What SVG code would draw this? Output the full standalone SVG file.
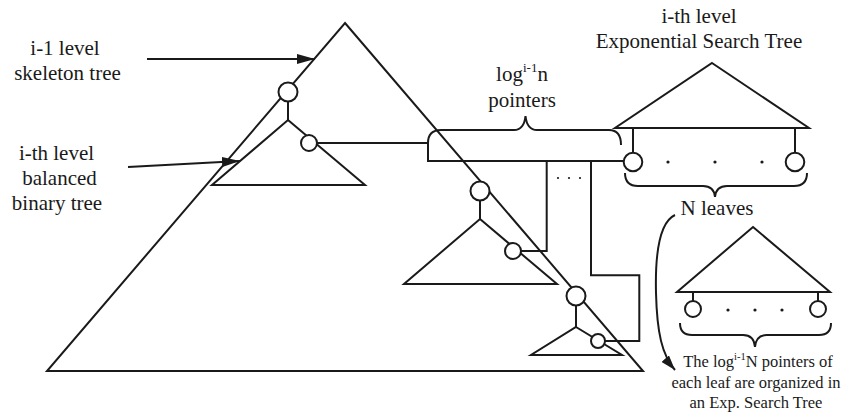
<svg xmlns="http://www.w3.org/2000/svg" width="841" height="413" viewBox="0 0 841 413">
<style>
.ln{fill:none;stroke:#1a1a1a;stroke-width:2;stroke-linejoin:miter}
.tri{fill:none;stroke:#1a1a1a;stroke-width:2;stroke-linejoin:miter}
.nd{fill:#fff;stroke:#1a1a1a;stroke-width:2}
.dot{fill:#1a1a1a}
.t{font-size:21px;fill:#1a1a1a;text-anchor:middle}
.s{font-size:16.5px;fill:#1a1a1a;text-anchor:middle}
</style>
<defs>
<marker id="ah" markerUnits="userSpaceOnUse" markerWidth="18" markerHeight="10" refX="18" refY="5" orient="auto">
<path d="M0,0 L18,5 L0,10 z" fill="#1a1a1a"/>
</marker>
<marker id="ah2" markerUnits="userSpaceOnUse" markerWidth="15" markerHeight="10" refX="15" refY="5" orient="auto">
<path d="M0,0 L15,5 L0,10 z" fill="#1a1a1a"/>
</marker>
</defs>
<rect width="841" height="413" fill="#fff"/>

<g id="skeleton-tree">
<polygon class="tri" points="345,23 643,371 47,371"/>
</g>

<g id="connectors">
<line class="ln" x1="147" y1="59" x2="315" y2="59" marker-end="url(#ah)"/>
<line class="ln" x1="128" y1="167" x2="240" y2="161" marker-end="url(#ah)"/>
<path class="ln" d="M317,143 L428,143 L428,161 L624,161"/>
<path class="ln" d="M521,251 L546.7,251 L546.7,161"/>
<path class="ln" d="M605,341 L639.3,341 L639.3,275.3 L591,275.3 L591,161"/>
<path class="ln" d="M675,215 C660,222 655,252 656,293 C657,333 662,355 675,370" marker-end="url(#ah2)"/>
<line class="ln" x1="288" y1="101" x2="288" y2="120"/>
<line class="ln" x1="480" y1="200" x2="480" y2="219"/>
<line class="ln" x1="576" y1="305" x2="576" y2="327"/>
</g>

<g id="balanced-tree-1">
<polygon class="tri" points="288,120 365,185 212,185"/>
<circle class="nd" cx="288" cy="92" r="9.5"/>
<circle class="nd" cx="309" cy="143" r="8"/>
</g>
<g id="balanced-tree-2">
<polygon class="tri" points="480,219 557,284 404,284"/>
<circle class="nd" cx="480" cy="191" r="9.5"/>
<circle class="nd" cx="513" cy="251" r="8"/>
</g>
<g id="balanced-tree-3">
<polygon class="tri" points="576,327 622,355 531,355"/>
<circle class="nd" cx="576" cy="296" r="9.5"/>
<circle class="nd" cx="598" cy="341" r="7"/>
</g>

<g id="pointers-brace">
<path class="ln" d="M428,143 Q428,130 441,130 L514,130 Q524,130 525.5,116 Q527,130 537,130 L609,130 Q621,130 621,145"/>
<circle class="dot" cx="558" cy="178" r="1.1"/>
<circle class="dot" cx="569" cy="178" r="1.1"/>
<circle class="dot" cx="580" cy="178" r="1.1"/>
</g>

<g id="exp-search-tree">
<polygon class="tri" points="712,63 809,128 615,128"/>
<line class="ln" x1="633" y1="128" x2="633" y2="153"/>
<line class="ln" x1="795" y1="128" x2="795" y2="153"/>
<circle class="nd" cx="633" cy="162" r="9.3"/>
<circle class="nd" cx="795" cy="162" r="9.3"/>
<circle class="dot" cx="668" cy="162" r="1.6"/>
<circle class="dot" cx="715" cy="162" r="1.6"/>
<circle class="dot" cx="762" cy="162" r="1.6"/>
<path class="ln" d="M625,173 Q625,186 638,186 L703,186 Q714,186 715,197 Q716,186 727,186 L794,186 Q807,186 807,173"/>
</g>

<g id="leaf-tree">
<polygon class="tri" points="753,227 830,292 677,292"/>
<line class="ln" x1="693" y1="292" x2="693" y2="301"/>
<line class="ln" x1="818" y1="292" x2="818" y2="301"/>
<circle class="nd" cx="693" cy="309" r="8"/>
<circle class="nd" cx="818" cy="309" r="8"/>
<circle class="dot" cx="728" cy="310" r="1.6"/>
<circle class="dot" cx="755" cy="310" r="1.6"/>
<circle class="dot" cx="782" cy="310" r="1.6"/>
<path class="ln" d="M680,323 Q680,335 692,335 L743,335 Q754,335 755,347 Q756,335 767,335 L819,335 Q831,335 831,323"/>
</g>

<g id="labels" font-family="Liberation Serif, Times New Roman, DejaVu Serif, serif">
<text class="t" x="65" y="55">i-1 level</text>
<text class="t" x="67.5" y="80">skeleton tree</text>
<text class="t" x="56.5" y="160">i-th level</text>
<text class="t" x="59.5" y="185">balanced</text>
<text class="t" x="57" y="210">binary tree</text>
<text class="t" x="522" y="81">log<tspan font-size="13" dy="-9">i-1</tspan><tspan dy="9">n</tspan></text>
<text class="t" x="522" y="106.5">pointers</text>
<text class="t" x="699" y="23">i-th level</text>
<text class="t" x="699" y="48">Exponential Search Tree</text>
<text class="t" x="717" y="215">N leaves</text>
<text class="s" x="758" y="367">The log<tspan font-size="10.5" dy="-7">i-1</tspan><tspan dy="7">N pointers of</tspan></text>
<text class="s" x="756" y="388">each leaf are organized in</text>
<text class="s" x="756" y="408">an Exp. Search Tree</text>
</g>
</svg>
